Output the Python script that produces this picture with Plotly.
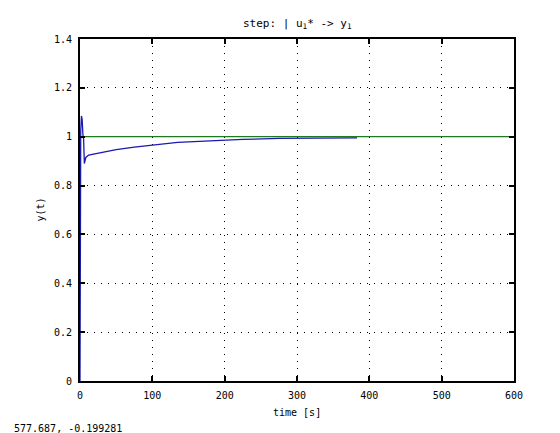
import plotly.graph_objs as go

# step response
t_resp = [0, 0.5, 1, 2, 3, 4, 5, 6, 8, 12, 20, 30, 50, 75, 100, 135, 165, 190, 225, 275, 320, 383]
y_resp = [0, 0.6, 1.02, 1.085, 1.07, 1.01, 0.99, 0.89, 0.915, 0.925, 0.93, 0.937, 0.947,
          0.957, 0.965, 0.977, 0.981, 0.985, 0.989, 0.993, 0.994, 0.995]

# reference (unit step)
t_ref = [0, 600]
y_ref = [1, 1]

x_ticks = [0, 100, 200, 300, 400, 500, 600]
y_ticks = [0, 0.2, 0.4, 0.6, 0.8, 1, 1.2, 1.4]
y_labels = ["0", "0.2", "0.4", "0.6", "0.8", "1", "1.2", "1.4"]

mono = "DejaVu Sans Mono"

fig = go.Figure()
fig.add_trace(go.Scatter(x=t_ref, y=y_ref, mode="lines",
                         line=dict(color="#1f7a1f", width=1.3)))
fig.add_trace(go.Scatter(x=t_resp, y=y_resp, mode="lines",
                         line=dict(color="#1a1ab0", width=1.3)))

axis_common = dict(showline=True, linecolor="black", linewidth=2, mirror="allticks",
                   ticks="inside", ticklen=5, tickcolor="black", tickwidth=2,
                   showgrid=True, gridcolor="black", gridwidth=1, griddash="1px,6px",
                   zeroline=False, ticklabelstandoff=4,
                   tickfont=dict(family=mono, size=10, color="black"))

fig.update_xaxes(range=[0, 600], tickvals=x_ticks, **axis_common)
fig.update_yaxes(range=[0, 1.4], tickvals=y_ticks, ticktext=y_labels, **axis_common)

fig.update_layout(
    width=560, height=433,
    margin=dict(l=72, r=54, t=31, b=60),
    paper_bgcolor="white", plot_bgcolor="white",
    showlegend=False,
    font=dict(family=mono, size=10, color="black"),
    annotations=[
        dict(text="step: | u<sub>1</sub>* -> y<sub>1</sub>", xref="paper", yref="paper",
             x=0.5, y=1.0, yshift=24, showarrow=False, font=dict(family=mono, size=11)),
        dict(text="time [s]", xref="paper", yref="paper", x=0.5, y=0, yshift=-39,
             showarrow=False, font=dict(family=mono, size=10)),
        dict(text="y(t)", xref="paper", yref="paper", x=0, y=0.5, xshift=-48,
             textangle=-90, showarrow=False, font=dict(family=mono, size=10)),
        dict(text="577.687, -0.199281", xref="paper", yref="paper", x=0, y=0,
             xshift=-68, yshift=-55, xanchor="left", showarrow=False,
             font=dict(family=mono, size=10)),
    ],
)

fig.write_html("out.html")
